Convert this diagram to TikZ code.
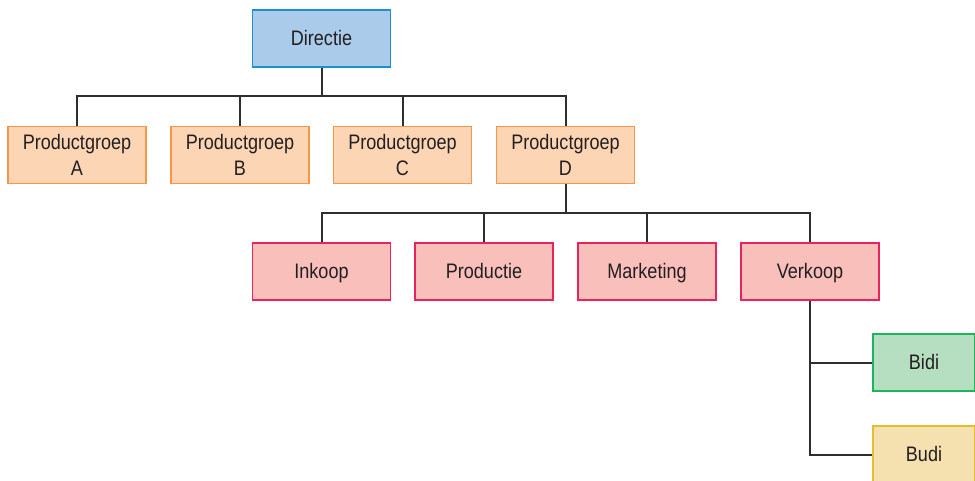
\documentclass[tikz,border=0pt]{standalone}
\usepackage{fontspec}
\setmainfont[FakeStretch=0.86]{Liberation Sans}
\usetikzlibrary{positioning}

\definecolor{txt}{HTML}{231F20}
\definecolor{lijnkl}{HTML}{2E2E2E}
\definecolor{dirfill}{HTML}{ABCBEA}
\definecolor{dirrand}{HTML}{1E8FD0}
\definecolor{grpfill}{HTML}{FCD5B4}
\definecolor{grprand}{HTML}{F79646}
\definecolor{afdfill}{HTML}{F9BFBB}
\definecolor{afdrand}{HTML}{E8245A}
\definecolor{bidifill}{HTML}{B6DEC0}
\definecolor{bidirand}{HTML}{1DB45A}
\definecolor{budifill}{HTML}{F5E0B0}
\definecolor{budirand}{HTML}{E6BE2C}

\begin{document}
\begin{tikzpicture}[x=1pt, y=-1pt,
  box/.style={rectangle, line width=1.5pt, minimum width=138pt, minimum height=57pt, inner sep=0pt, align=center, text=txt, font=\fontsize{21}{25.5}\selectfont},
  een/.style={box, text height=16pt, text depth=2pt},
  dir/.style={een, draw=dirrand, fill=dirfill},
  grp/.style={box, draw=grprand, fill=grpfill},
  afd/.style={een, draw=afdrand, fill=afdfill},
  merk/.style={een, minimum width=102pt},
  lijn/.style={draw=lijnkl, line width=2pt}]
  \useasboundingbox (0,0) rectangle (975,481);
  \clip (0,0) rectangle (975,481);

  \node[dir] (dir) at (321.5,38.5) {Directie};

  \node[grp] (pa) at (77,155) {Productgroep\\A};
  \node[grp] (pb) at (240,155) {Productgroep\\B};
  \node[grp] (pc) at (402.5,155) {Productgroep\\C};
  \node[grp] (pd) at (565.5,155) {Productgroep\\D};

  \node[afd] (inkoop) at (321.5,271.5) {Inkoop};
  \node[afd] (productie) at (484,271.5) {Productie};
  \node[afd] (marketing) at (647,271.5) {Marketing};
  \node[afd] (verkoop) at (810,271.5) {Verkoop};

  \node[merk, draw=bidirand, fill=bidifill] (bidi) at (924,362.5) {Bidi};
  \node[merk, draw=budirand, fill=budifill] (budi) at (924,454.5) {Budi};

  \coordinate (bus1) at (321.5,96.5);
  \coordinate (bus2) at (565.5,213.5);

  \draw[lijn] (dir) -- (bus1);
  \draw[lijn] (pa.north) -- (pa.north |- bus1) -- (pd.north |- bus1) -- (pd.north);
  \draw[lijn] (pb.north) -- (pb.north |- bus1);
  \draw[lijn] (pc.north) -- (pc.north |- bus1);

  \draw[lijn] (pd) -- (bus2);
  \draw[lijn] (inkoop.north) -- (inkoop.north |- bus2) -- (verkoop.north |- bus2) -- (verkoop.north);
  \draw[lijn] (productie.north) -- (productie.north |- bus2);
  \draw[lijn] (marketing.north) -- (marketing.north |- bus2);

  \draw[lijn] (verkoop.south) |- (budi.west);
  \draw[lijn] (verkoop.south |- bidi.west) -- (bidi.west);
\end{tikzpicture}
\end{document}
